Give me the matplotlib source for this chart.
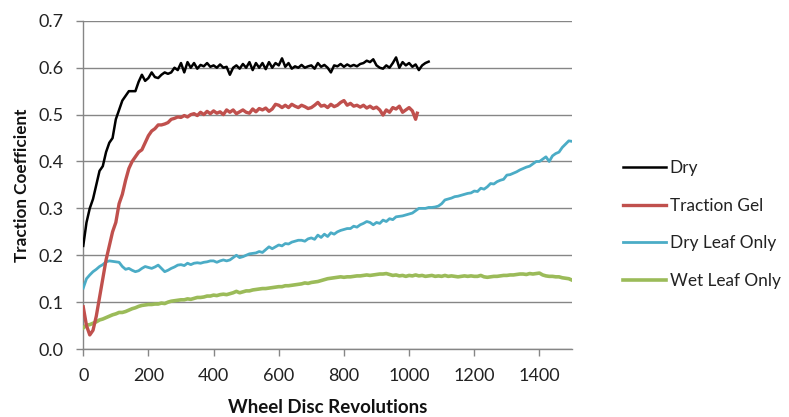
import numpy as np
import matplotlib
matplotlib.use("Agg")
import matplotlib.pyplot as plt
from matplotlib.ticker import FormatStrFormatter

plt.rcParams['font.family'] = ['Lato', 'DejaVu Sans']

# ---------------- data ----------------
dry_x = list(range(0, 1061, 10))
dry_y = [0.22, 0.27, 0.30, 0.32, 0.35, 0.38, 0.39, 0.42, 0.44, 0.45,
         0.49, 0.51, 0.53, 0.54, 0.55, 0.55, 0.55, 0.57, 0.585, 0.572,
         0.578, 0.59, 0.58, 0.578, 0.585, 0.59, 0.587, 0.59, 0.60, 0.595,
         0.61, 0.59, 0.612, 0.60, 0.61, 0.598, 0.606, 0.603, 0.61, 0.602,
         0.605, 0.60, 0.607, 0.60, 0.602, 0.585, 0.60, 0.605, 0.598, 0.608,
         0.60, 0.612, 0.595, 0.61, 0.60, 0.61, 0.597, 0.612, 0.60, 0.61,
         0.605, 0.62, 0.602, 0.61, 0.598, 0.603, 0.60, 0.606, 0.60, 0.603,
         0.605, 0.598, 0.61, 0.602, 0.606, 0.60, 0.59, 0.605, 0.603, 0.608,
         0.602, 0.607, 0.603, 0.606, 0.603, 0.608, 0.61, 0.615, 0.612, 0.618,
         0.605, 0.60, 0.598, 0.605, 0.60, 0.61, 0.622, 0.60, 0.612, 0.605,
         0.61, 0.602, 0.607, 0.595, 0.605, 0.61, 0.613]

gel_x = list(range(0, 1021, 10)) + [1025]
gel_y = [0.09, 0.05, 0.03, 0.04, 0.07, 0.11, 0.15, 0.19, 0.22, 0.25,
         0.27, 0.31, 0.33, 0.36, 0.385, 0.40, 0.41, 0.42, 0.425, 0.44,
         0.455, 0.465, 0.47, 0.478, 0.478, 0.48, 0.483, 0.49, 0.492, 0.495,
         0.494, 0.498, 0.495, 0.50, 0.502, 0.498, 0.505, 0.50, 0.507, 0.502,
         0.508, 0.503, 0.506, 0.50, 0.51, 0.505, 0.51, 0.502, 0.506, 0.51,
         0.505, 0.503, 0.512, 0.506, 0.513, 0.51, 0.514, 0.507, 0.512, 0.522,
         0.52, 0.515, 0.52, 0.515, 0.522, 0.518, 0.515, 0.52, 0.517, 0.513,
         0.515, 0.52, 0.526, 0.518, 0.52, 0.515, 0.522, 0.517, 0.52, 0.526,
         0.53, 0.52, 0.524, 0.518, 0.52, 0.516, 0.52, 0.514, 0.518, 0.513,
         0.516, 0.51, 0.499, 0.51, 0.505, 0.515, 0.512, 0.518, 0.505, 0.51,
         0.515, 0.508, 0.49, 0.503]

leaf_x = list(range(0, 1501, 10))
dry_leaf_y = [0.13, 0.15, 0.158, 0.165, 0.17, 0.176, 0.18, 0.186, 0.188, 0.187,
              0.186, 0.185, 0.176, 0.17, 0.172, 0.168, 0.165, 0.167, 0.172, 0.176,
              0.174, 0.172, 0.175, 0.179, 0.172, 0.165, 0.168, 0.172, 0.175, 0.179,
              0.18, 0.178, 0.183, 0.18, 0.183, 0.184, 0.183, 0.185, 0.186, 0.188,
              0.188, 0.185, 0.188, 0.19, 0.188, 0.19, 0.195, 0.20, 0.195, 0.197,
              0.2, 0.203, 0.204, 0.205, 0.208, 0.206, 0.212, 0.218, 0.214, 0.218,
              0.222, 0.22, 0.225, 0.224, 0.228, 0.23, 0.232, 0.232, 0.23, 0.235,
              0.237, 0.234, 0.243, 0.238, 0.245, 0.24, 0.248, 0.245, 0.25, 0.253,
              0.255, 0.257, 0.257, 0.262, 0.26, 0.265, 0.268, 0.272, 0.27, 0.265,
              0.27, 0.268, 0.275, 0.272, 0.278, 0.276, 0.282, 0.283, 0.284, 0.286,
              0.288, 0.29, 0.295, 0.30, 0.30, 0.30, 0.302, 0.302, 0.303, 0.305,
              0.31, 0.318, 0.32, 0.322, 0.325, 0.326, 0.328, 0.33, 0.332, 0.333,
              0.337, 0.336, 0.343, 0.341, 0.346, 0.353, 0.352, 0.357, 0.36, 0.362,
              0.371, 0.372, 0.375, 0.378, 0.382, 0.385, 0.388, 0.39, 0.395, 0.40,
              0.40, 0.405, 0.41, 0.40, 0.412, 0.417, 0.42, 0.43, 0.437, 0.444,
              0.443]
wet_leaf_y = [0.045, 0.051, 0.052, 0.055, 0.058, 0.062, 0.064, 0.067, 0.07, 0.073,
              0.075, 0.078, 0.078, 0.08, 0.083, 0.086, 0.088, 0.091, 0.093, 0.094,
              0.095, 0.095, 0.096, 0.096, 0.098, 0.097, 0.10, 0.102, 0.103, 0.104,
              0.105, 0.105, 0.107, 0.106, 0.108, 0.11, 0.11, 0.111, 0.113, 0.113,
              0.115, 0.114, 0.116, 0.117, 0.116, 0.118, 0.12, 0.123, 0.12, 0.122,
              0.124, 0.124, 0.126, 0.127, 0.128, 0.129, 0.129, 0.13, 0.131, 0.132,
              0.133, 0.133, 0.135, 0.135, 0.136, 0.137, 0.138, 0.139, 0.141, 0.14,
              0.142, 0.143, 0.144, 0.146, 0.148, 0.15, 0.151, 0.152, 0.153, 0.154,
              0.153, 0.154, 0.154, 0.155, 0.156, 0.156, 0.157, 0.158, 0.157, 0.158,
              0.159, 0.16, 0.16, 0.161, 0.159, 0.157, 0.158, 0.156, 0.157, 0.155,
              0.157, 0.156, 0.158, 0.156, 0.157, 0.155, 0.156, 0.157, 0.155, 0.156,
              0.155, 0.157, 0.155, 0.156, 0.155, 0.154, 0.155, 0.156, 0.155, 0.156,
              0.155, 0.155, 0.157, 0.154, 0.153, 0.154, 0.155, 0.155, 0.156, 0.157,
              0.157, 0.158, 0.158, 0.159, 0.16, 0.16, 0.159, 0.161, 0.16, 0.161,
              0.162, 0.158, 0.156, 0.155, 0.155, 0.154, 0.154, 0.152, 0.151, 0.15,
              0.147]

series_labels = ["Dry", "Traction Gel", "Dry Leaf Only", "Wet Leaf Only"]
x_ticks = [0, 200, 400, 600, 800, 1000, 1200, 1400]
y_ticks = [0.0, 0.1, 0.2, 0.3, 0.4, 0.5, 0.6, 0.7]

# ---------------- plot ----------------
fig = plt.figure(figsize=(7.89, 4.17), dpi=100)
ax = fig.add_axes([0.1055, 0.163, 0.6195, 0.787])

grid_c = "#868686"
ax.plot(dry_x, dry_y, color="#000000", lw=1.8, label=series_labels[0], zorder=5)
ax.plot(gel_x, gel_y, color="#C0504D", lw=2.4, label=series_labels[1], zorder=4)
ax.plot(leaf_x, dry_leaf_y, color="#4BACC6", lw=2.0, label=series_labels[2], zorder=3)
ax.plot(leaf_x, wet_leaf_y, color="#9BBB59", lw=2.6, label=series_labels[3], zorder=3)

ax.set_xlim(0, 1500)
ax.set_ylim(0, 0.7)
ax.set_xticks(x_ticks)
ax.set_yticks(y_ticks)
ax.yaxis.set_major_formatter(FormatStrFormatter("%.1f"))
ax.grid(axis="y", color=grid_c, lw=1.0)
ax.set_axisbelow(True)
for s in ["top", "right"]:
    ax.spines[s].set_visible(False)
for s in ["left", "bottom"]:
    ax.spines[s].set_color(grid_c)
    ax.spines[s].set_linewidth(1.0)
ax.tick_params(axis="both", colors=grid_c, labelcolor="#222222", labelsize=13,
               length=5, width=1.0)
ax.tick_params(axis="x", pad=9)
ax.tick_params(axis="y", pad=9)

ax.set_xlabel("Wheel Disc Revolutions", fontsize=13.5, fontweight="bold",
              color="#111111")
ax.set_ylabel("Traction Coefficient", fontsize=12.3, fontweight="bold",
              color="#111111")
ax.xaxis.set_label_coords(0.5, -0.152)
ax.yaxis.set_label_coords(-0.108, 0.5)

leg = ax.legend(loc="upper left", bbox_to_anchor=(0.79, 0.617),
                bbox_transform=fig.transFigure, frameon=False,
                fontsize=12.4, handlelength=2.5, handletextpad=0.2,
                labelspacing=1.27, borderaxespad=0, borderpad=0)
for t in leg.get_texts():
    t.set_color("#222222")

fig.savefig("out.png", dpi=100)
